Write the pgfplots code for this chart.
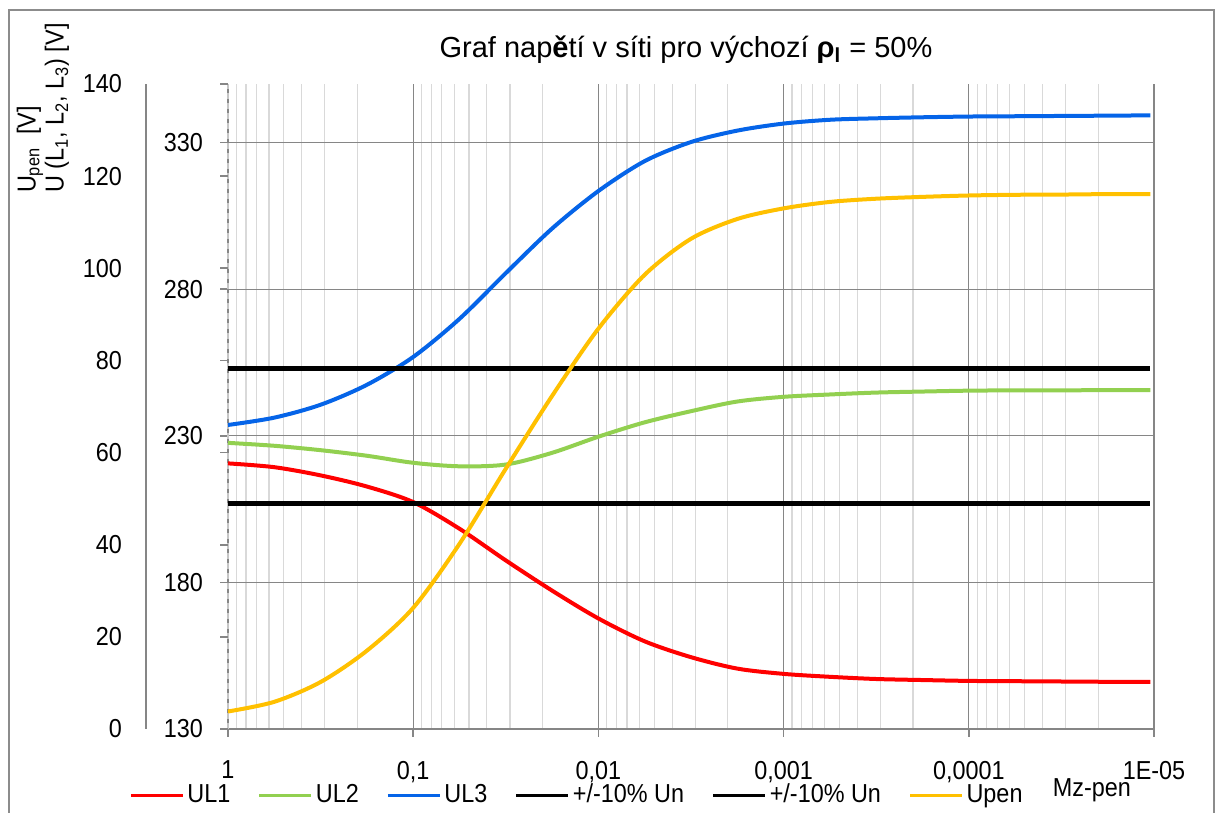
\documentclass[border=0pt]{standalone}
\usepackage{pgfplots}
\pgfplotsset{compat=1.18}
\usepackage{pgfplotstable}
\usepackage{fontspec}
\setmainfont{Liberation Sans}[FakeStretch=0.9]
\newfontfamily\titlefont{Liberation Sans}
\definecolor{cUL1}{RGB}{255,0,0}
\definecolor{cUL2}{RGB}{146,208,80}
\definecolor{cUL3}{RGB}{5,100,232}
\definecolor{cUpen}{RGB}{255,192,0}
\definecolor{gridmajor}{RGB}{134,134,134}
\definecolor{gridminor}{RGB}{217,217,217}
\definecolor{framegray}{RGB}{140,140,140}

\pgfplotstableread{
x          ul1    ul2    ul3    upen
1          220.6  227.6  233.7  3.8
0.56234    219.3  226.6  236.2  5.9
0.31623    216.5  225.1  240.6  10.2
0.17783    212.7  223.2  247.4  17.0
0.1        207.4  220.8  256.9  26.3
0.056234   198.3  219.6  269.9  40.2
0.031623   187.5  220.2  285.5  56.5
0.017783   177.2  224.2  300.7  72.3
0.01       167.7  229.7  313.5  86.9
0.0056234  159.9  234.6  323.7  98.6
0.0031623  154.5  238.4  330.2  106.4
0.0017783  150.6  241.7  334.1  110.7
0.001      148.8  243.3  336.5  113.0
5.6234e-4  147.8  244.1  337.8  114.4
3.1623e-4  147.05 244.75 338.3  115.1
1.7783e-4  146.7  245.1  338.65 115.5
1e-4       146.4  245.4  338.9  115.8
5.6234e-5  146.3  245.5  339.0  115.95
3.1623e-5  146.2  245.5  339.1  116.0
1.7783e-5  146.1  245.6  339.2  116.1
1.0471e-5  146.1  245.6  339.3  116.1
}\datatable

\pgfplotstableread{
x          lo    hi
1          207   253
1.0471e-5  207   253
}\limits

\begin{document}
\begin{tikzpicture}
\pgfplotsset{
  every axis/.append style={
    at={(0pt,0pt)}, anchor=south west,
    scale only axis, width=463pt, height=322.5pt,
    xmode=log, x dir=reverse, xmin=1e-5, xmax=1,
    /pgf/number format/assume math mode=true,
    tick label style={font=\fontsize{13}{15}\selectfont},
    tick align=outside, major tick length=4pt, minor tick length=0pt,
  }
}
\begin{axis}[
  ymin=130, ymax=350,
  xtick={1,0.1,0.01,0.001,0.0001,0.00001},
  xticklabels={1,{0,1},{0,01},{0,001},{0,0001},1E-05},
  minor xtick={0.2,0.3,0.4,0.5,0.6,0.7,0.8,0.9,
    0.02,0.03,0.04,0.05,0.06,0.07,0.08,0.09,
    0.002,0.003,0.004,0.005,0.006,0.007,0.008,0.009,
    0.0002,0.0003,0.0004,0.0005,0.0006,0.0007,0.0008,0.0009,
    0.00002,0.00003,0.00004,0.00005,0.00006,0.00007,0.00008,0.00009},
  ytick={130,180,230,280,330},
  axis x line*=bottom, axis y line*=left,
  x axis line style={draw=gridmajor, line width=0.8pt, -},
  y axis line style={draw=gray!45, densely dashed, line width=0.6pt, -},
  xtick style={draw=gridmajor, line width=0.8pt},
  ytick style={draw=gridmajor, line width=0.8pt},
  xmajorgrids, xminorgrids, ymajorgrids,
  major grid style={draw=gridmajor, line width=0.6pt},
  minor grid style={draw=gridminor, line width=0.6pt},
  xticklabel style={yshift=-8.5pt},
  yticklabel style={xshift=-5pt},
  legend columns=6,
  legend style={draw=none, fill=none, inner sep=0pt,
    at={(-0.1069,-0.1024)}, anchor=west,
    font=\fontsize{13}{15}\selectfont,
    nodes={inner xsep=1.5pt, inner ysep=0pt},
    /tikz/every even column/.append style={column sep=12.3pt}},
  legend image code/.code={\draw[#1, line width=1.5pt] (0pt,0pt) -- (26pt,0pt);},
]
\addplot[cUL1, line width=2pt, smooth] table[x=x, y=ul1]{\datatable};
\addlegendentry{UL1}
\addplot[cUL2, line width=2pt, smooth] table[x=x, y=ul2]{\datatable};
\addlegendentry{UL2}
\addplot[cUL3, line width=2pt, smooth] table[x=x, y=ul3]{\datatable};
\addlegendentry{UL3}
\addplot[black, line width=2.5pt] table[x=x, y=hi]{\limits};
\addlegendentry{+/-10\% Un}
\addplot[black, line width=2.5pt] table[x=x, y=lo]{\limits};
\addlegendentry{+/-10\% Un}
\addlegendimage{cUpen, line width=2pt}
\addlegendentry{Upen}
\end{axis}
\begin{axis}[
  ymin=0, ymax=140,
  axis x line=none, axis y line*=left,
  y axis line style={draw=none},
  ytick={0,20,...,140},
  ytick style={draw=gridmajor, line width=0.8pt},
  yticklabel style={xshift=-45.5pt},
]
\addplot[cUpen, line width=2pt, smooth] table[x=x, y=upen]{\datatable};
\end{axis}
\draw[gridmajor, line width=0.8pt] (-41pt,0pt) -- (-41pt,322.5pt);
\node[font=\titlefont\fontsize{14.5}{17}\selectfont] at (229pt,339.5pt)
  {Graf nap\textbf{ě}tí v síti pro výchozí \textbf{ρ}\textsubscript{\textbf{l}} = 50\%};
\node[rotate=90, anchor=west, align=left, font=\fontsize{13}{14}\selectfont] at (-92.5pt,264.5pt)
  {U\textsubscript{pen}\ \ [V]\\U (L\textsubscript{1}, L\textsubscript{2}, L\textsubscript{3}) [V]};
\node[font=\fontsize{13}{15}\selectfont] at (432pt,-30.5pt) {Mz-pen};
\draw[framegray, line width=1pt] (-109.5pt,359.5pt) rectangle (493pt,-60pt);
\pgfresetboundingbox
\path[use as bounding box] (-114pt,-42pt) rectangle (494pt,364.5pt);
\end{tikzpicture}
\end{document}
